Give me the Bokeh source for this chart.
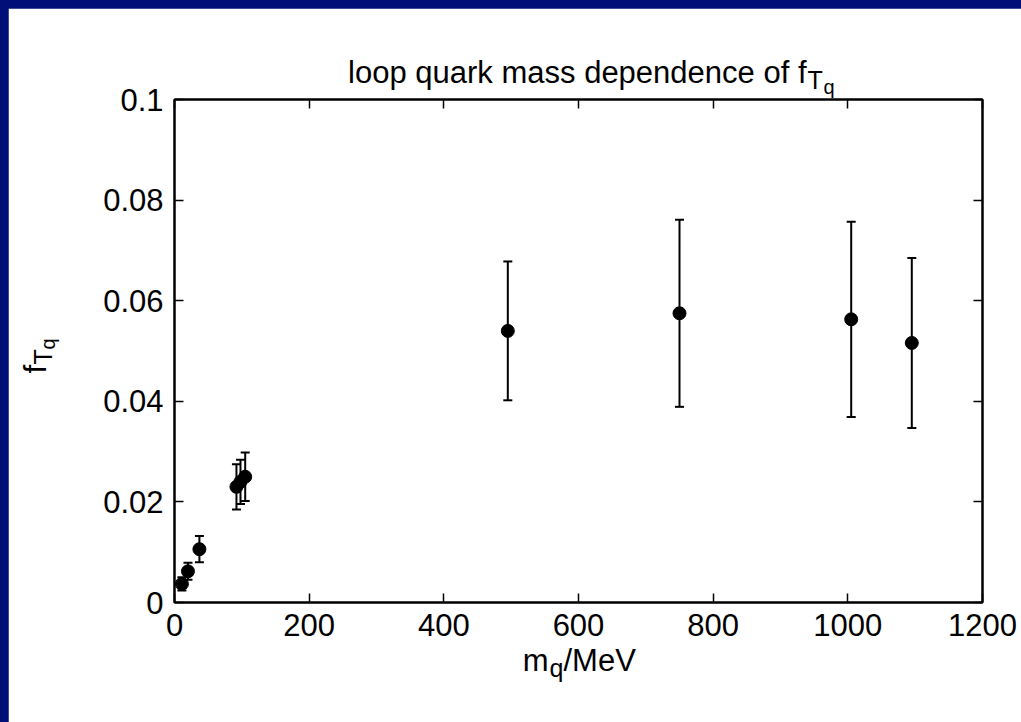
from math import pi
from bokeh.plotting import figure
from bokeh.models import (ColumnDataSource, Whisker, TeeHead, Label, LinearAxis,
                          FixedTicker, Spacer)
from bokeh.layouts import column, row
from bokeh.embed import file_html
from bokeh.resources import INLINE

# ---- data ----
mass_mev = [11, 20, 37, 92, 98, 105, 495, 750, 1005, 1095]
f_tq = [0.0037, 0.0062, 0.0106, 0.0230, 0.0240, 0.0250, 0.0540, 0.0575, 0.0563, 0.0516]
f_err = [0.0013, 0.0017, 0.0026, 0.0045, 0.0044, 0.0048, 0.0138, 0.0186, 0.0194, 0.0169]

x_ticks = [0, 200, 400, 600, 800, 1000, 1200]
y_ticks = [0, 0.02, 0.04, 0.06, 0.08, 0.1]
y_tick_labels = ["0", "0.02", "0.04", "0.06", "0.08", "0.1"]

FONT = "Liberation Sans"
NAVY = "#001078"

src = ColumnDataSource(dict(
    m=mass_mev, f=f_tq,
    lo=[a - b for a, b in zip(f_tq, f_err)],
    hi=[a + b for a, b in zip(f_tq, f_err)],
))

XMIN, XMAX, YMIN, YMAX = 0, 1200, 0, 0.1
PAD = 8
W, H = 1021, 722
FW, FH = W - PAD, H - PAD
BL, BR, BT, BB = 166, 39, 91, 120

p = figure(width=FW, height=FH, x_range=(XMIN, XMAX), y_range=(YMIN, YMAX),
           output_backend="svg", toolbar_location=None, sizing_mode="fixed",
           min_border_left=BL, min_border_right=BR, min_border_top=BT, min_border_bottom=BB,
           background_fill_color="white", border_fill_color="white")
p.xgrid.visible = False
p.ygrid.visible = False
p.outline_line_color = "black"
p.outline_line_width = 2

frame_w = FW - BL - BR
frame_h = FH - BT - BB


def to_data(px, py):
    fx = px - PAD - BL
    fy = py - PAD - BT
    x = XMIN + fx / frame_w * (XMAX - XMIN)
    y = YMAX - fy / frame_h * (YMAX - YMIN)
    return x, y


def style_axis(ax, show_labels):
    ax.major_tick_in = 9
    ax.major_tick_out = 0
    ax.minor_tick_in = 0
    ax.minor_tick_out = 0
    ax.axis_line_width = 2
    ax.major_tick_line_width = 1.5
    ax.major_label_text_font = FONT
    ax.major_label_text_font_size = "31px"
    ax.major_label_text_color = "black"
    ax.major_label_standoff = 11
    if not show_labels:
        ax.major_label_text_alpha = 0
        ax.major_label_text_font_size = "1px"
        ax.major_label_standoff = 0


for ax in p.xaxis:
    ax.ticker = FixedTicker(ticks=x_ticks)
    style_axis(ax, True)
for ax in p.yaxis:
    ax.ticker = FixedTicker(ticks=y_ticks)
    ax.major_label_overrides = {t: s for t, s in zip(y_ticks, y_tick_labels)}
    style_axis(ax, True)

top_ax = LinearAxis(ticker=FixedTicker(ticks=x_ticks))
style_axis(top_ax, False)
p.add_layout(top_ax, "above")
right_ax = LinearAxis(ticker=FixedTicker(ticks=y_ticks))
style_axis(right_ax, False)
p.add_layout(right_ax, "right")

# error bars
p.add_layout(Whisker(source=src, base="m", upper="hi", lower="lo", dimension="height",
                     line_color="black", line_width=2,
                     upper_head=TeeHead(size=9, line_width=2, line_color="black"),
                     lower_head=TeeHead(size=9, line_width=2, line_color="black")))
p.scatter("m", "f", source=src, size=13, color="black")


def add_text(text, px, py, size, place, align="left", angle=0.0):
    x, y = to_data(px, py)
    p.add_layout(Label(x=x, y=y, text=text, text_font=FONT, text_font_size=f"{size}px",
                       text_align=align, text_baseline="alphabetic", angle=angle,
                       text_color="black"), place)


# title: loop quark mass dependence of f_{T_q}
add_text("loop quark mass dependence of f", 806, 72, 31, "above", "right")
add_text("T", 807, 79, 25, "above")
add_text("q", 823, 86, 20, "above")

# x label: m_q/MeV  (pieces spread over side panels so no border grows)
add_text("m", 548, 660, 31, "below", "right")
add_text("q", 549, 667, 25, "right")
add_text("/MeV", 563, 660, 31, "below")

# y label: f_{T_q} rotated
add_text("f", 35, 373, 31, "left", "left", pi / 2)
add_text("T", 42, 364, 25, "left", "left", pi / 2)
add_text("q", 47, 349, 20, "left", "left", pi / 2)

lay = row(Spacer(width=PAD, height=H, sizing_mode="fixed"),
          column(Spacer(width=FW, height=PAD, sizing_mode="fixed"), p,
                 spacing=0, width=FW, height=H, sizing_mode="fixed"),
          spacing=0, width=W, height=H, sizing_mode="fixed",
          styles={"background-color": NAVY})
open("out.html", "w").write(file_html(lay, INLINE))
